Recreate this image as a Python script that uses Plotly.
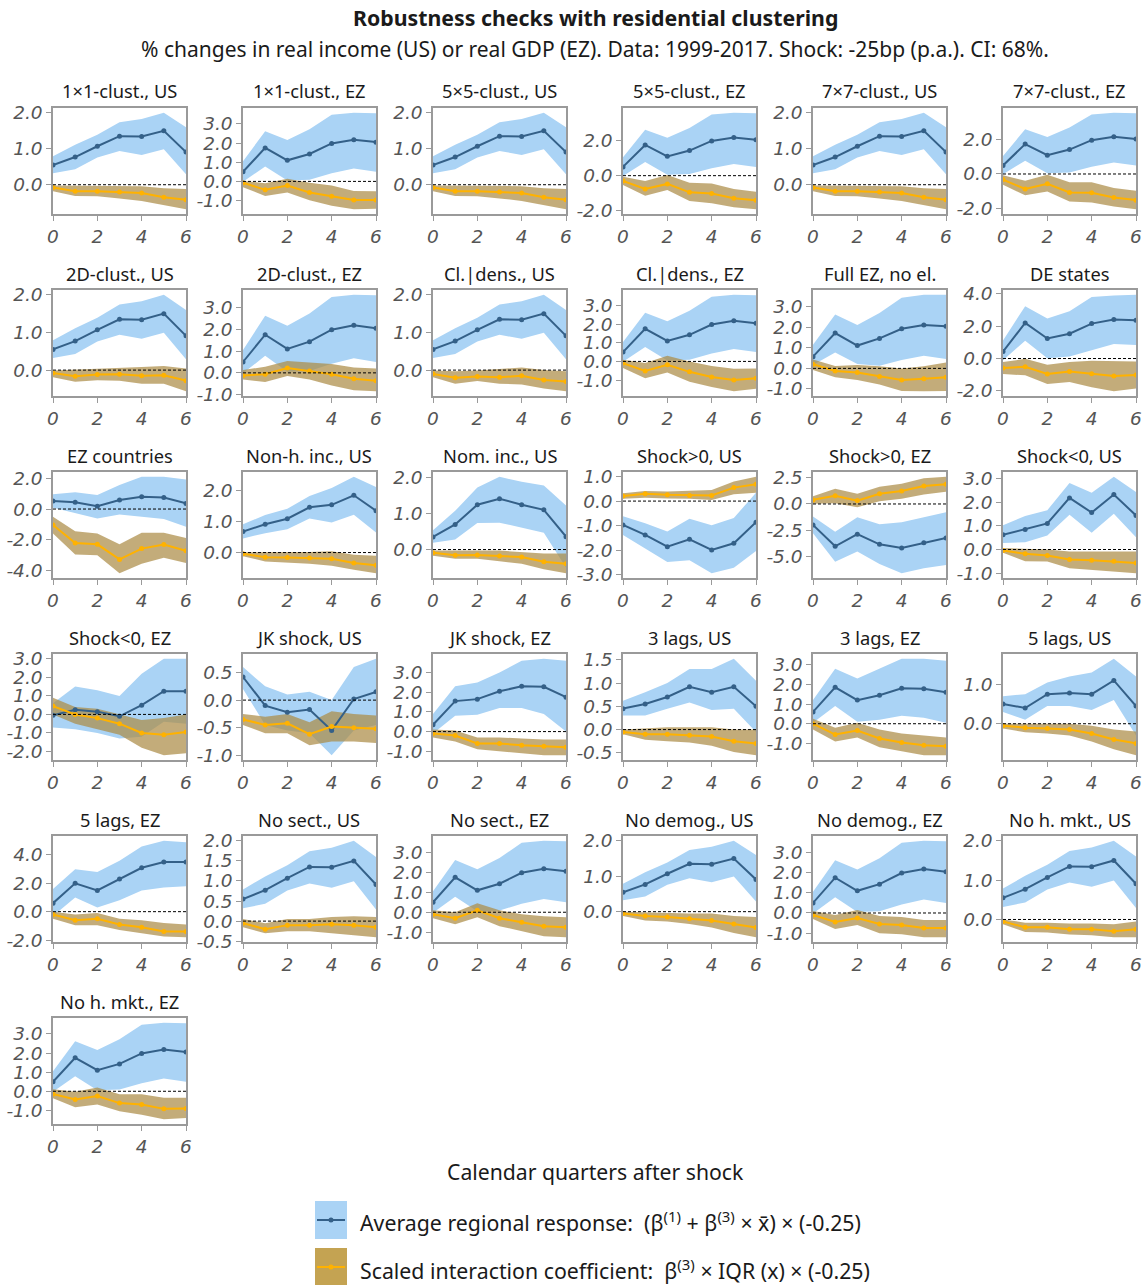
import math
import plotly.graph_objects as go

X = [0, 1, 2, 3, 4, 5, 6]

# ---- common blue (average regional response) series ----
US_M = [0.55, 0.77, 1.07, 1.35, 1.34, 1.50, 0.91]
US_L = [0.32, 0.43, 0.76, 0.94, 0.83, 0.99, 0.29]
US_H = [0.79, 1.11, 1.39, 1.74, 1.83, 2.00, 1.60]
EZ_M = [0.50, 1.75, 1.10, 1.43, 1.98, 2.18, 2.05]
EZ_L = [-0.02, 0.78, 0.05, 0.09, 0.42, 0.67, 0.50]
EZ_H = [1.05, 2.62, 2.16, 2.72, 3.48, 3.58, 3.56]

# ---- gold (scaled interaction) series & panel specific blue ----
C1US_M = [-0.08, -0.18, -0.18, -0.20, -0.23, -0.35, -0.42]
C1US_L = [-0.18, -0.31, -0.32, -0.38, -0.45, -0.57, -0.68]
C1US_H = [-0.02, -0.03, -0.03, -0.03, -0.04, -0.10, -0.12]
C1EZ_M = [-0.07, -0.44, -0.21, -0.58, -0.78, -0.97, -0.97]
C1EZ_L = [-0.30, -0.76, -0.58, -0.99, -1.27, -1.45, -1.43]
C1EZ_H = [0.02, -0.09, 0.14, -0.07, -0.21, -0.50, -0.51]
C5EZ_M = [-0.30, -0.76, -0.47, -0.95, -1.02, -1.29, -1.40]
C5EZ_L = [-0.53, -1.14, -0.82, -1.44, -1.57, -1.80, -1.91]
C5EZ_H = [-0.06, -0.30, 0.04, -0.40, -0.44, -0.76, -0.91]
C7EZ_M = [-0.33, -0.88, -0.57, -1.08, -1.10, -1.37, -1.53]
C7EZ_L = [-0.63, -1.25, -1.02, -1.61, -1.67, -1.90, -2.06]
C7EZ_H = [-0.08, -0.39, -0.04, -0.49, -0.49, -0.82, -0.98]
D2US_M = [-0.08, -0.16, -0.12, -0.11, -0.15, -0.14, -0.28]
D2US_L = [-0.19, -0.31, -0.27, -0.28, -0.36, -0.36, -0.56]
D2US_H = [-0.01, 0.01, 0.04, 0.06, 0.08, 0.11, 0.04]
D2EZ_M = [-0.12, -0.06, 0.22, 0.09, -0.06, -0.27, -0.36]
D2EZ_L = [-0.30, -0.42, -0.14, -0.30, -0.58, -0.80, -0.84]
D2EZ_H = [0.13, 0.28, 0.55, 0.48, 0.41, 0.25, 0.20]
CDUS_M = [-0.10, -0.20, -0.17, -0.19, -0.15, -0.26, -0.30]
CDUS_L = [-0.19, -0.36, -0.29, -0.36, -0.38, -0.49, -0.56]
CDUS_H = [-0.01, -0.03, -0.01, 0.02, 0.07, 0.00, -0.03]
CDEZ_M = [-0.09, -0.51, -0.18, -0.56, -0.84, -1.00, -0.91]
CDEZ_L = [-0.36, -0.91, -0.60, -1.09, -1.38, -1.60, -1.47]
CDEZ_H = [0.09, -0.09, 0.31, 0.00, -0.24, -0.40, -0.38]
FEB_M = [0.57, 1.72, 1.11, 1.46, 1.93, 2.11, 2.05]
FEB_L = [0.16, 0.77, 0.21, 0.13, 0.41, 0.62, 0.46]
FEB_H = [1.15, 2.62, 2.11, 2.70, 3.44, 3.58, 3.58]
FE_M = [0.20, -0.13, -0.20, -0.39, -0.57, -0.51, -0.43]
FE_L = [-0.08, -0.43, -0.56, -0.79, -1.10, -1.11, -1.10]
FE_H = [0.43, 0.11, 0.16, 0.10, 0.00, 0.10, 0.28]
DEB_M = [0.43, 2.20, 1.24, 1.53, 2.16, 2.41, 2.37]
DEB_L = [-0.10, 1.10, 0.02, 0.12, 0.53, 0.90, 0.84]
DEB_H = [1.12, 3.24, 2.47, 2.92, 3.80, 3.90, 3.94]
DE_M = [-0.59, -0.51, -0.96, -0.80, -0.94, -1.08, -1.02]
DE_L = [-0.96, -1.04, -1.57, -1.45, -1.78, -2.02, -1.86]
DE_H = [-0.22, -0.02, -0.39, -0.22, -0.14, -0.14, -0.18]
ECB_M = [0.53, 0.44, 0.18, 0.59, 0.81, 0.75, 0.37]
ECB_L = [0.09, -0.29, -0.62, -0.35, -0.51, -0.66, -1.16]
ECB_H = [0.97, 1.10, 0.92, 1.58, 2.11, 2.11, 1.93]
EC_M = [-1.05, -2.22, -2.31, -3.30, -2.59, -2.33, -2.73]
EC_L = [-1.60, -2.97, -3.03, -4.20, -3.58, -3.19, -3.54]
EC_H = [-0.51, -1.45, -1.60, -2.31, -1.56, -1.56, -1.89]
NHB_M = [0.68, 0.92, 1.10, 1.47, 1.55, 1.86, 1.36]
NHB_L = [0.46, 0.63, 0.76, 1.11, 0.98, 1.23, 0.65]
NHB_H = [0.92, 1.22, 1.42, 1.84, 2.10, 2.46, 2.13]
NH_M = [-0.04, -0.15, -0.16, -0.18, -0.20, -0.34, -0.41]
NH_L = [-0.12, -0.29, -0.32, -0.36, -0.43, -0.56, -0.67]
NH_H = [0.01, 0.01, 0.01, 0.02, 0.04, -0.07, -0.10]
NIB_M = [0.35, 0.70, 1.25, 1.42, 1.25, 1.11, 0.36]
NIB_L = [0.19, 0.28, 0.74, 0.75, 0.61, 0.47, -0.50]
NIB_H = [0.54, 1.08, 1.73, 2.03, 1.89, 1.79, 1.23]
NI_M = [-0.09, -0.16, -0.15, -0.18, -0.21, -0.34, -0.40]
NI_L = [-0.17, -0.26, -0.26, -0.33, -0.40, -0.55, -0.66]
NI_H = [-0.03, -0.04, -0.03, -0.03, -0.08, -0.11, -0.11]
SPUB_M = [-0.97, -1.38, -1.86, -1.56, -1.99, -1.72, -0.86]
SPUB_L = [-1.38, -1.93, -2.48, -2.41, -2.94, -2.72, -2.04]
SPUB_H = [-0.62, -0.90, -1.24, -0.72, -0.99, -0.69, 0.34]
SPU_M = [0.21, 0.30, 0.26, 0.23, 0.23, 0.55, 0.69]
SPU_L = [0.10, 0.14, 0.11, 0.10, 0.04, 0.28, 0.34]
SPU_H = [0.32, 0.41, 0.39, 0.41, 0.45, 0.80, 0.99]
SPEB_M = [-2.00, -4.04, -2.88, -3.85, -4.20, -3.69, -3.24]
SPEB_L = [-2.80, -5.50, -4.53, -5.73, -6.60, -6.12, -5.83]
SPEB_H = [-1.20, -2.65, -1.26, -1.94, -1.75, -1.29, -0.78]
SPE_M = [0.39, 0.78, 0.32, 0.97, 1.23, 1.71, 1.88]
SPE_L = [0.03, 0.06, -0.32, 0.26, 0.49, 0.91, 1.17]
SPE_H = [0.74, 1.46, 0.97, 1.65, 1.94, 2.46, 2.59]
SNUB_M = [0.62, 0.85, 1.10, 2.18, 1.56, 2.32, 1.44]
SNUB_L = [0.28, 0.31, 0.59, 1.47, 0.71, 1.51, 0.52]
SNUB_H = [1.02, 1.42, 1.66, 2.81, 2.40, 3.07, 2.43]
SNU_M = [-0.04, -0.18, -0.25, -0.42, -0.45, -0.50, -0.57]
SNU_L = [-0.14, -0.50, -0.51, -0.79, -0.85, -0.92, -1.00]
SNU_H = [0.06, 0.03, 0.00, -0.08, -0.08, -0.08, -0.08]
SNEB_M = [-0.05, 0.25, 0.15, -0.10, 0.50, 1.25, 1.25]
SNEB_L = [-0.70, -0.80, -1.00, -1.30, -1.20, -0.40, -0.50]
SNEB_H = [0.60, 1.50, 1.30, 1.00, 2.20, 3.00, 3.00]
SNE_M = [0.45, 0.00, -0.20, -0.50, -1.00, -1.10, -0.95]
SNE_L = [0.00, -0.50, -0.80, -1.10, -1.80, -2.20, -2.10]
SNE_H = [0.90, 0.40, 0.30, 0.00, -0.30, -0.20, 0.00]
JKUB_M = [0.42, -0.10, -0.22, -0.17, -0.55, 0.02, 0.15]
JKUB_L = [0.20, -0.45, -0.55, -0.60, -1.00, -0.55, -0.45]
JKUB_H = [0.60, 0.25, 0.10, 0.15, 0.00, 0.60, 0.75]
JKU_M = [-0.35, -0.45, -0.42, -0.62, -0.48, -0.50, -0.52]
JKU_L = [-0.45, -0.60, -0.60, -0.82, -0.75, -0.75, -0.78]
JKU_H = [-0.25, -0.30, -0.25, -0.40, -0.20, -0.25, -0.28]
JKEB_M = [0.35, 1.55, 1.65, 2.05, 2.30, 2.28, 1.75]
JKEB_L = [-0.10, 0.80, 0.85, 1.20, 1.20, 0.90, 0.00]
JKEB_H = [0.90, 2.30, 2.50, 3.00, 3.60, 3.70, 3.60]
JKE_M = [-0.10, -0.20, -0.60, -0.60, -0.70, -0.75, -0.80]
JKE_L = [-0.30, -0.50, -0.90, -1.00, -1.10, -1.20, -1.20]
JKE_H = [0.10, 0.05, -0.30, -0.30, -0.35, -0.40, -0.40]
L3UB_M = [0.45, 0.55, 0.70, 0.92, 0.80, 0.92, 0.50]
L3UB_L = [0.30, 0.30, 0.45, 0.58, 0.42, 0.45, -0.05]
L3UB_H = [0.62, 0.80, 1.00, 1.30, 1.30, 1.52, 1.05]
L3U_M = [-0.05, -0.10, -0.10, -0.12, -0.15, -0.25, -0.30]
L3U_L = [-0.10, -0.22, -0.25, -0.28, -0.35, -0.48, -0.55]
L3U_H = [0.00, 0.03, 0.05, 0.05, 0.05, 0.00, 0.00]
L3EB_M = [0.60, 1.85, 1.20, 1.45, 1.80, 1.78, 1.60]
L3EB_L = [0.05, 0.90, 0.10, 0.20, 0.40, 0.30, 0.05]
L3EB_H = [1.20, 2.80, 2.30, 2.80, 3.30, 3.30, 3.20]
L3E_M = [0.00, -0.55, -0.35, -0.75, -0.95, -1.10, -1.15]
L3E_L = [-0.30, -0.90, -0.70, -1.20, -1.40, -1.60, -1.60]
L3E_H = [0.25, -0.20, 0.05, -0.30, -0.50, -0.60, -0.70]
L5UB_M = [0.50, 0.40, 0.75, 0.78, 0.75, 1.10, 0.45]
L5UB_L = [0.30, 0.10, 0.45, 0.45, 0.35, 0.60, -0.30]
L5UB_H = [0.70, 0.75, 1.05, 1.20, 1.30, 1.65, 1.20]
L5U_M = [-0.05, -0.10, -0.12, -0.15, -0.25, -0.40, -0.50]
L5U_L = [-0.12, -0.22, -0.25, -0.30, -0.45, -0.65, -0.80]
L5U_H = [0.00, 0.00, 0.00, 0.00, -0.05, -0.15, -0.20]
L5EB_M = [0.60, 2.00, 1.50, 2.30, 3.10, 3.50, 3.50]
L5EB_L = [-0.30, 1.00, 0.30, 0.80, 1.50, 1.70, 1.80]
L5EB_H = [1.60, 3.00, 2.80, 3.60, 4.60, 5.00, 4.90]
L5E_M = [-0.20, -0.60, -0.50, -0.90, -1.10, -1.40, -1.40]
L5E_L = [-0.50, -0.95, -0.95, -1.30, -1.50, -1.75, -1.80]
L5E_H = [0.00, -0.20, -0.10, -0.50, -0.60, -0.80, -0.90]
NSU_M = [-0.05, -0.20, -0.10, -0.10, -0.08, -0.10, -0.15]
NSU_L = [-0.15, -0.30, -0.25, -0.25, -0.30, -0.35, -0.40]
NSU_H = [0.05, -0.05, 0.05, 0.05, 0.10, 0.12, 0.10]
NSE_M = [-0.10, -0.30, 0.10, -0.30, -0.50, -0.70, -0.75]
NSE_L = [-0.30, -0.60, -0.25, -0.70, -0.95, -1.20, -1.25]
NSE_H = [0.10, 0.00, 0.45, 0.10, -0.10, -0.20, -0.25]
NDU_M = [-0.05, -0.12, -0.15, -0.20, -0.25, -0.35, -0.45]
NDU_L = [-0.12, -0.25, -0.28, -0.35, -0.45, -0.60, -0.72]
NDU_H = [0.00, -0.02, -0.03, -0.05, -0.05, -0.12, -0.15]
NDE_M = [-0.10, -0.45, -0.25, -0.55, -0.60, -0.75, -0.75]
NDE_L = [-0.30, -0.80, -0.60, -1.00, -1.05, -1.20, -1.20]
NDE_H = [0.10, -0.10, 0.15, -0.15, -0.20, -0.35, -0.35]
NMU_M = [-0.05, -0.20, -0.20, -0.25, -0.25, -0.30, -0.25]
NMU_L = [-0.12, -0.32, -0.33, -0.38, -0.40, -0.45, -0.45]
NMU_H = [0.00, -0.08, -0.08, -0.10, -0.10, -0.12, -0.05]
NME_M = [-0.14, -0.43, -0.25, -0.62, -0.69, -0.92, -0.90]
NME_L = [-0.37, -0.83, -0.69, -1.05, -1.23, -1.46, -1.40]
NME_H = [0.10, -0.02, 0.20, -0.16, -0.16, -0.34, -0.34]

US_B = (US_M, US_L, US_H)
EZ_B = (EZ_M, EZ_L, EZ_H)

# title, blue (mean, lo, hi), gold (mean, lo, hi), y tick step
PANELS = [
    ("1×1-clust., US", US_B, (C1US_M, C1US_L, C1US_H), 1.0),
    ("1×1-clust., EZ", EZ_B, (C1EZ_M, C1EZ_L, C1EZ_H), 1.0),
    ("5×5-clust., US", US_B, (C1US_M, C1US_L, C1US_H), 1.0),
    ("5×5-clust., EZ", EZ_B, (C5EZ_M, C5EZ_L, C5EZ_H), 2.0),
    ("7×7-clust., US", US_B, (C1US_M, C1US_L, C1US_H), 1.0),
    ("7×7-clust., EZ", EZ_B, (C7EZ_M, C7EZ_L, C7EZ_H), 2.0),
    ("2D-clust., US", US_B, (D2US_M, D2US_L, D2US_H), 1.0),
    ("2D-clust., EZ", EZ_B, (D2EZ_M, D2EZ_L, D2EZ_H), 1.0),
    ("Cl.|dens., US", US_B, (CDUS_M, CDUS_L, CDUS_H), 1.0),
    ("Cl.|dens., EZ", EZ_B, (CDEZ_M, CDEZ_L, CDEZ_H), 1.0),
    ("Full EZ, no el.", (FEB_M, FEB_L, FEB_H), (FE_M, FE_L, FE_H), 1.0),
    ("DE states", (DEB_M, DEB_L, DEB_H), (DE_M, DE_L, DE_H), 2.0),
    ("EZ countries", (ECB_M, ECB_L, ECB_H), (EC_M, EC_L, EC_H), 2.0),
    ("Non-h. inc., US", (NHB_M, NHB_L, NHB_H), (NH_M, NH_L, NH_H), 1.0),
    ("Nom. inc., US", (NIB_M, NIB_L, NIB_H), (NI_M, NI_L, NI_H), 1.0),
    ("Shock>0, US", (SPUB_M, SPUB_L, SPUB_H), (SPU_M, SPU_L, SPU_H), 1.0),
    ("Shock>0, EZ", (SPEB_M, SPEB_L, SPEB_H), (SPE_M, SPE_L, SPE_H), 2.5),
    ("Shock<0, US", (SNUB_M, SNUB_L, SNUB_H), (SNU_M, SNU_L, SNU_H), 1.0),
    ("Shock<0, EZ", (SNEB_M, SNEB_L, SNEB_H), (SNE_M, SNE_L, SNE_H), 1.0),
    ("JK shock, US", (JKUB_M, JKUB_L, JKUB_H), (JKU_M, JKU_L, JKU_H), 0.5),
    ("JK shock, EZ", (JKEB_M, JKEB_L, JKEB_H), (JKE_M, JKE_L, JKE_H), 1.0),
    ("3 lags, US", (L3UB_M, L3UB_L, L3UB_H), (L3U_M, L3U_L, L3U_H), 0.5),
    ("3 lags, EZ", (L3EB_M, L3EB_L, L3EB_H), (L3E_M, L3E_L, L3E_H), 1.0),
    ("5 lags, US", (L5UB_M, L5UB_L, L5UB_H), (L5U_M, L5U_L, L5U_H), 1.0),
    ("5 lags, EZ", (L5EB_M, L5EB_L, L5EB_H), (L5E_M, L5E_L, L5E_H), 2.0),
    ("No sect., US", US_B, (NSU_M, NSU_L, NSU_H), 0.5),
    ("No sect., EZ", EZ_B, (NSE_M, NSE_L, NSE_H), 1.0),
    ("No demog., US", US_B, (NDU_M, NDU_L, NDU_H), 1.0),
    ("No demog., EZ", EZ_B, (NDE_M, NDE_L, NDE_H), 1.0),
    ("No h. mkt., US", US_B, (NMU_M, NMU_L, NMU_H), 1.0),
    ("No h. mkt., EZ", EZ_B, (NME_M, NME_L, NME_H), 1.0),
]

X_TICKS = [0, 2, 4, 6]

TITLE = "<b>Robustness checks with residential clustering</b>"
SUBTITLE = "% changes in real income (US) or real GDP (EZ). Data: 1999-2017. Shock: -25bp (p.a.). CI: 68%."
XLABEL = "Calendar quarters after shock"
LEG1 = "Average regional response:  (β<sup>(1)</sup> + β<sup>(3)</sup> × x̄) × (-0.25)"
LEG2 = "Scaled interaction coefficient:  β<sup>(3)</sup> × IQR (x) × (-0.25)"

# ---- styling ----
W, H = 1146, 1285
BLUE_FILL = "rgb(170,211,245)"
BLUE_LINE = "rgb(52,96,136)"
GOLD_FILL = "rgba(172,140,70,0.72)"
GOLD_LINE = "rgb(255,178,0)"
GOLD_SWATCH = "rgb(196,163,82)"
FRAME = "#9a9a9a"
TXT = "#1a1a1a"
TICKC = "#555555"
SANS = "Noto Sans"
TICKFONT = dict(family="DejaVu Sans", size=18.5, color=TICKC, style="italic")

COL0, COLSTEP, PW = 53, 190, 133
ROW0, ROWSTEP, PH = 108, 182, 106


def px(x):
    return x / W


def py(y):
    return 1 - y / H


fig = go.Figure()
layout = {}
annotations = []
shapes = []

for i, (title, blue, gold, dt) in enumerate(PANELS):
    r, c = divmod(i, 6)
    k = i + 1
    xa = "x" if k == 1 else f"x{k}"
    ya = "y" if k == 1 else f"y{k}"
    left = COL0 + c * COLSTEP
    top = ROW0 + r * ROWSTEP

    bm, bl, bh = blue
    gm, gl, gh = gold
    for (lo, hi, fc) in [(bl, bh, BLUE_FILL), (gl, gh, GOLD_FILL)]:
        fig.add_trace(go.Scatter(x=X + X[::-1], y=hi + lo[::-1], fill="toself",
                                 fillcolor=fc, line=dict(width=0), mode="lines",
                                 hoverinfo="skip", showlegend=False, xaxis=xa, yaxis=ya))
    fig.add_trace(go.Scatter(x=X, y=bm, mode="lines+markers",
                             line=dict(color=BLUE_LINE, width=2),
                             marker=dict(size=5, color=BLUE_LINE),
                             showlegend=False, xaxis=xa, yaxis=ya))
    fig.add_trace(go.Scatter(x=X, y=gm, mode="lines+markers",
                             line=dict(color=GOLD_LINE, width=2),
                             marker=dict(size=5, color=GOLD_LINE),
                             showlegend=False, xaxis=xa, yaxis=ya))

    allv = bl + bh + gl + gh
    vmin, vmax = min(allv), max(allv)
    pad = 0.05 * (vmax - vmin)
    y0, y1 = vmin - pad, vmax + pad
    t = math.ceil(y0 / dt - 1e-9) * dt
    tv = []
    while t <= y1 + 1e-9:
        tv.append(round(t, 4))
        t += dt
    tt = [f"{v:.1f}".replace("-0.0", "0.0") for v in tv]

    axkey = "xaxis" if k == 1 else f"xaxis{k}"
    aykey = "yaxis" if k == 1 else f"yaxis{k}"
    common = dict(showgrid=False, zeroline=False, showline=True, mirror=True,
                  linecolor=FRAME, linewidth=1.5, ticks="outside", ticklen=5,
                  tickcolor=FRAME, tickwidth=1.3, tickfont=TICKFONT, automargin=False)
    layout[axkey] = dict(domain=[px(left), px(left + PW)], anchor=ya, range=[0, 6],
                         tickvals=X_TICKS, ticktext=[str(v) for v in X_TICKS], **common)
    layout[aykey] = dict(domain=[py(top + PH), py(top)], anchor=xa, range=[y0, y1],
                         tickvals=tv, ticktext=tt, **common)
    shapes.append(dict(type="line", xref=f"{xa} domain", yref=ya, x0=0, x1=1, y0=0, y1=0,
                       line=dict(color="black", width=1, dash="3px,2px"), layer="above"))
    annotations.append(dict(text=title, x=px(left + PW / 2), y=py(top - 17), xref="paper",
                            yref="paper", showarrow=False, xanchor="center", yanchor="middle",
                            font=dict(family=SANS, size=18.3, color=TXT)))

CX = px(595)
annotations += [
    dict(text=TITLE, x=CX, y=py(18), xref="paper", yref="paper", showarrow=False,
         xanchor="center", yanchor="middle", font=dict(family=SANS, size=21.3, color=TXT)),
    dict(text=SUBTITLE, x=CX, y=py(49), xref="paper", yref="paper", showarrow=False,
         xanchor="center", yanchor="middle", font=dict(family=SANS, size=21, color=TXT)),
    dict(text=XLABEL, x=CX, y=py(1171), xref="paper", yref="paper", showarrow=False,
         xanchor="center", yanchor="middle", font=dict(family=SANS, size=21.2, color=TXT)),
    dict(text=LEG1, x=px(358), y=py(1221), xref="paper", yref="paper", showarrow=False,
         xanchor="left", yanchor="middle", font=dict(family=SANS, size=21.3, color=TXT)),
    dict(text=LEG2, x=px(358), y=py(1269), xref="paper", yref="paper", showarrow=False,
         xanchor="left", yanchor="middle", font=dict(family=SANS, size=21.3, color=TXT)),
]

# legend swatches
for (yc, fillc, linec) in [(1220, BLUE_FILL, BLUE_LINE), (1267, GOLD_SWATCH, GOLD_LINE)]:
    shapes.append(dict(type="rect", xref="paper", yref="paper", x0=px(315), x1=px(347),
                       y0=py(yc + 19), y1=py(yc - 19), fillcolor=fillc, line=dict(width=0)))
    shapes.append(dict(type="line", xref="paper", yref="paper", x0=px(317), x1=px(345),
                       y0=py(yc), y1=py(yc), line=dict(color=linec, width=2)))
    shapes.append(dict(type="circle", xref="paper", yref="paper", x0=px(328.5), x1=px(333.5),
                       y0=py(yc + 2.5), y1=py(yc - 2.5), fillcolor=linec, line=dict(width=0)))

fig.update_layout(template="none", width=W, height=H, autosize=False,
                  margin=dict(l=0, r=0, t=0, b=0, pad=0),
                  paper_bgcolor="white", plot_bgcolor="white", showlegend=False,
                  annotations=annotations, shapes=shapes, **layout)

fig.write_html("out.html", config={"displayModeBar": False},
               post_script="document.body.style.margin='0';document.body.style.overflow='hidden';")
